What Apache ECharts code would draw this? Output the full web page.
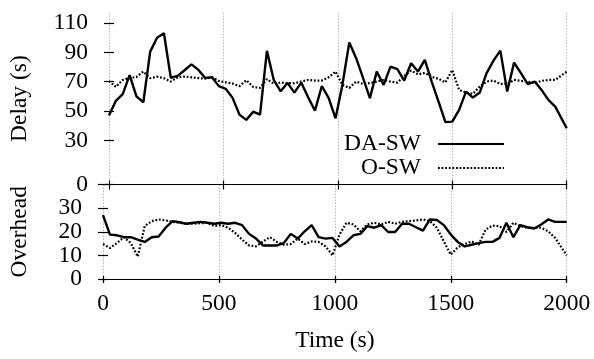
<!DOCTYPE html>
<html>
<head>
<meta charset="utf-8">
<script src="https://cdn.jsdelivr.net/npm/echarts@6/dist/echarts.min.js"></script>
<style>html,body{margin:0;padding:0;background:#fff}#c{width:594px;height:359px}</style>
</head>
<body>
<div id="c"></div>
<script>
// sample times (s)
const times = [0,30,60,90,120,150,180,210,240,270,300,330,360,390,420,450,480,510,540,570,600,630,660,690,720,750,780,810,840,870,900,930,960,990,1020,1050,1080,1110,1140,1170,1200,1230,1260,1290,1320,1350,1380,1410,1440,1470,1500,1530,1560,1590,1620,1650,1680,1710,1740,1770,1800,1830,1860,1890,1920,1950,2000];
// Delay (s)
const delayDASW = [47,57,61.5,74.5,60,56,90.5,100,103,72.7,74,77.8,81.8,78.2,72.6,73,67,65.2,59,47.6,44,49.6,47.6,91,71.2,63.5,69.2,62.6,69.4,59.4,50.3,67.1,58.8,45.1,68,96.7,86,72.6,58.8,76.9,67.8,80.3,78.5,70.8,82.6,76.9,84.9,70.1,56.4,42.5,42.8,50.8,63.3,59.2,62.6,75.8,84.4,91.2,63.3,83,75.8,68.3,70.1,64.4,57.6,53,38.3];
const delayOSW = [70.5,66.5,71.2,72.6,73.2,76.9,72.4,73.4,72.4,70.1,73,73.5,73,72.5,72,73,70.5,69.6,68.7,67,71,66.4,65.8,71.8,68.6,69.4,69,69,70.1,71.2,70.8,70.8,73,76.9,67.8,65.8,70.1,68.5,69,70.1,71.2,70.1,69.4,74,77.5,75,76,73.3,72,69.5,78,64.4,62.6,61.7,66.7,70.1,70.8,68.5,68.5,71.2,70.6,70.1,69,70.6,71.2,71.2,76.9];
// Overhead
const overDASW = [27,18.8,18.5,17.7,17.7,16.7,15.7,17.7,18,21.7,24.5,24,23.4,23.8,24.2,23.8,23.4,23.8,23.4,23.8,22.8,19.1,17.1,14.2,14.2,14.2,15.2,19.1,17.1,20.2,22.8,17.7,17.1,17.4,13.8,15.7,18.5,19.1,22.4,21.7,22.8,19.9,19.9,23.4,23.4,21.9,20.5,25.2,25,22.8,18.8,15.7,13.8,14.5,15.2,15.7,15.7,17.4,23.8,17.7,22.8,21.9,21.4,23.1,25.2,24.2,24.2];
const overOSW = [14.8,13.1,15.2,17.7,15.2,9.5,22.4,24.5,25.2,24.8,24.2,23.8,23.4,23.4,23.6,23.8,22.4,22.8,21.7,19.5,16.7,14.2,13.8,15.9,17.7,15.7,14.5,14.8,17.1,14.8,15.9,15.7,13.8,10,18.8,23.8,23.1,20.2,23.1,23.8,23.1,24.2,23.4,24.2,24.5,24.8,25.2,24.5,21.7,15.9,10.3,13.4,14.8,15.9,14.5,20.9,22.6,22.4,19.9,23.8,22.4,21.7,21.7,21.7,20.2,17.4,10];
const xTicks = [0,500,1000,1500,2000];
const delayTicks = [0,30,50,70,90,110];
const overTicksEven = [0,20];
const overTicksOdd = [10,30];
const overTickMarks = [0,10,20,30,40];
const seriesNames = ['DA-SW','O-SW'];

const FONT = "'Liberation Serif','DejaVu Serif',serif";
const FS = 23.5;
const pairs = (ys) => ys.map((y, i) => [times[i], y]);
const plain = (v) => String(v);

const L = 102.7, R = 594 - 566.7;
const xBase = {min: 0, max: 2000, interval: 500, type: 'value'};
const blackLine = {show: true, lineStyle: {color: '#000', width: 1.2}};
const noLine = {show: false};
const grid = (top, h) => ({left: L, right: R, top: top, height: h});
const tickStyle = {color: '#000', width: 1.2};
const labelBase = {color: '#000', fontSize: FS, fontFamily: FONT, formatter: plain,
  showMinLabel: true, showMaxLabel: true, hideOverlap: false};

const solid = {color: '#000', width: 2.4, type: 'solid'};
const dotted = {color: '#000', width: 2.2, type: [1.8, 1.8], cap: 'butt'};

const chart = echarts.init(document.getElementById('c'), null, {renderer: 'canvas'});
chart.setOption({
  animation: false,
  backgroundColor: '#fff',
  textStyle: {fontFamily: FONT},
  grid: [grid(12.7, 171.8), grid(184.5, 94.5)],
  xAxis: [
    Object.assign({}, xBase, {gridIndex: 0, position: 'bottom', axisLine: blackLine,
      axisTick: {show: true, inside: true, length: 4, lineStyle: tickStyle},
      axisLabel: {show: false},
      splitLine: {show: true, lineStyle: {color: '#b8b8b8', width: 1, type: [1.5, 1.5]}}}),
    Object.assign({}, xBase, {gridIndex: 0, position: 'top', axisLine: noLine,
      axisTick: {show: true, inside: true, length: 5, lineStyle: tickStyle},
      axisLabel: {show: false}, splitLine: {show: false}}),
    Object.assign({}, xBase, {gridIndex: 1, position: 'top', axisLine: noLine,
      axisTick: {show: true, inside: true, length: 3, lineStyle: tickStyle},
      axisLabel: {show: false}, splitLine: {show: false}}),
    Object.assign({}, xBase, {gridIndex: 1, position: 'bottom', axisLine: blackLine,
      axisTick: {show: true, inside: true, length: 3, lineStyle: tickStyle},
      axisLabel: Object.assign({}, labelBase, {show: true, margin: 13}),
      splitLine: {show: true, lineStyle: {color: '#b8b8b8', width: 1, type: [1.5, 1.5]}},
      name: 'Time (s)', nameLocation: 'middle', nameGap: 50,
      nameTextStyle: {color: '#000', fontSize: FS, fontFamily: FONT}}),
    Object.assign({}, xBase, {gridIndex: 1, position: 'bottom', axisLine: noLine,
      axisTick: {show: true, inside: false, length: 4, lineStyle: tickStyle},
      axisLabel: {show: false}, splitLine: {show: false}})
  ],
  yAxis: [
    {type: 'value', gridIndex: 0, position: 'left', min: 0, max: 117, axisLine: noLine,
      axisTick: {show: true, inside: false, length: 5, customValues: delayTicks, lineStyle: tickStyle},
      axisLabel: Object.assign({show: true, margin: 21, customValues: delayTicks}, labelBase),
      splitLine: {show: false},
      name: 'Delay (s)', nameLocation: 'middle', nameGap: 77, nameRotate: 90,
      nameTextStyle: {color: '#000', fontSize: FS, fontFamily: FONT}},
    {type: 'value', gridIndex: 0, position: 'right', min: 0, max: 117, axisLine: noLine,
      axisTick: {show: true, inside: false, length: 5, customValues: delayTicks, lineStyle: tickStyle},
      axisLabel: {show: false}, splitLine: {show: false}},
    {type: 'value', gridIndex: 1, position: 'left', min: 0, max: 40, axisLine: noLine,
      axisTick: {show: true, inside: false, length: 5, customValues: overTickMarks, lineStyle: tickStyle},
      axisLabel: Object.assign({show: true, margin: 21, customValues: overTicksEven}, labelBase),
      splitLine: {show: false},
      name: 'Overhead', nameLocation: 'middle', nameGap: 71, nameRotate: 90,
      nameTextStyle: {color: '#000', fontSize: FS, fontFamily: FONT}},
    {type: 'value', gridIndex: 1, position: 'right', min: 0, max: 40, axisLine: noLine,
      axisTick: {show: true, inside: false, length: 5, customValues: overTickMarks, lineStyle: tickStyle},
      axisLabel: {show: false}, splitLine: {show: false}},
    {type: 'value', gridIndex: 1, position: 'left', offset: 0, min: 0, max: 40, axisLine: noLine,
      axisTick: {show: false},
      axisLabel: Object.assign({show: true, margin: 21, customValues: overTicksOdd}, labelBase),
      splitLine: {show: false}}
  ],
  legend: {
    data: seriesNames,
    orient: 'vertical', align: 'right',
    right: 89, top: 132, padding: 0, itemGap: 0,
    itemWidth: 66, itemHeight: 14,
    itemStyle: {opacity: 0},
    textStyle: {color: '#000', fontSize: FS, fontFamily: FONT, padding: [0, 12, 0, 0]}
  },
  series: [
    {name: seriesNames[0], type: 'line', xAxisIndex: 0, yAxisIndex: 0, data: pairs(delayDASW), showSymbol: false, symbol: 'none', lineStyle: solid, itemStyle: {color: '#000'}, z: 3},
    {name: seriesNames[1], type: 'line', xAxisIndex: 0, yAxisIndex: 0, data: pairs(delayOSW), showSymbol: false, symbol: 'none', lineStyle: dotted, itemStyle: {color: '#000'}, z: 2},
    {name: seriesNames[0], type: 'line', xAxisIndex: 3, yAxisIndex: 2, data: pairs(overDASW), showSymbol: false, symbol: 'none', lineStyle: solid, itemStyle: {color: '#000'}, z: 3},
    {name: seriesNames[1], type: 'line', xAxisIndex: 3, yAxisIndex: 2, data: pairs(overOSW), showSymbol: false, symbol: 'none', lineStyle: dotted, itemStyle: {color: '#000'}, z: 2}
  ]
});
</script>
</body>
</html>
